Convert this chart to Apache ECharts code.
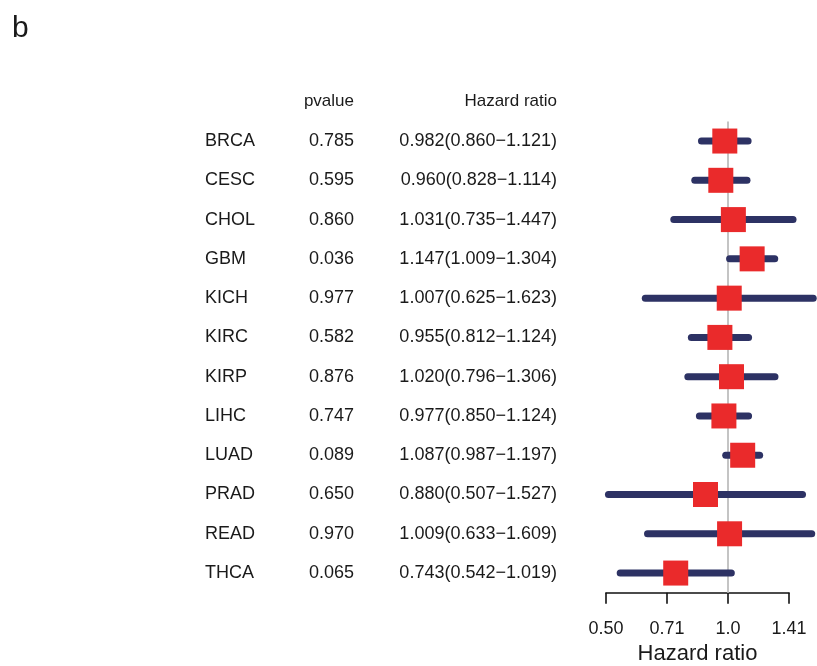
<!DOCTYPE html>
<html>
<head>
<meta charset="utf-8">
<script src="https://cdn.jsdelivr.net/npm/echarts@6/dist/echarts.min.js"></script>
<style>html,body{margin:0;padding:0;background:#fff}#c{width:817px;height:666px}</style>
</head>
<body>
<div id="c"></div>
<script>
const categories = ["BRCA","CESC","CHOL","GBM","KICH","KIRC","KIRP","LIHC","LUAD","PRAD","READ","THCA"];
const pvalues = ["0.785","0.595","0.860","0.036","0.977","0.582","0.876","0.747","0.089","0.650","0.970","0.065"];
const hr = [0.982,0.960,1.031,1.147,1.007,0.955,1.020,0.977,1.087,0.880,1.009,0.743];
const hrLow = [0.860,0.828,0.735,1.009,0.625,0.812,0.796,0.850,0.987,0.507,0.633,0.542];
const hrHigh = [1.121,1.114,1.447,1.304,1.623,1.124,1.306,1.124,1.197,1.527,1.609,1.019];
const tickLabels = ["0.50","0.71","1.0","1.41"];
const refValue = [1.0];

const FONT = '"Liberation Sans", Arial, Helvetica, sans-serif';
const TXT = '#1a1a1a';

const fmt = v => v.toFixed(3);
const ciData = categories.map((c,i)=>[Math.log2(hrLow[i]), Math.log2(hrHigh[i]), Math.log2(hr[i]), i]);
const tableData = categories.map((c,i)=>[0, i, c, pvalues[i], fmt(hr[i])+'('+fmt(hrLow[i])+'\u2212'+fmt(hrHigh[i])+')']);

const chart = echarts.init(document.getElementById('c'), null, {renderer:'canvas'});
chart.setOption({
  animation:false,
  backgroundColor:'#fff',
  textStyle:{fontFamily:FONT},
  graphic:[
    {type:'text', left:12, top:14, style:{text:'b', font:'30px '+FONT, fill:TXT}},
    {type:'text', x:354, y:101, style:{text:'pvalue', font:'17px '+FONT, fill:TXT, align:'right', verticalAlign:'middle'}},
    {type:'text', x:557, y:101, style:{text:'Hazard ratio', font:'17px '+FONT, fill:TXT, align:'right', verticalAlign:'middle'}}
  ],
  grid:{left:606, width:183, top:121.4, height:471.3, outerBoundsMode:'none', containLabel:false},
  xAxis:{
    type:'value', min:-1, max:0.5, interval:0.5,
    axisLine:{show:true, lineStyle:{color:'#111', width:1.6}},
    axisTick:{show:true, length:11, lineStyle:{color:'#111', width:1.6}},
    axisLabel:{margin:27, fontSize:18, color:TXT, fontFamily:FONT,
      formatter:(v)=>{const k=Math.round((v+1)/0.5); return tickLabels[k]||'';}},
    splitLine:{show:false},
    name:'Hazard ratio', nameLocation:'middle', nameGap:48,
    nameTextStyle:{fontSize:22, color:TXT, fontFamily:FONT}
  },
  yAxis:{type:'category', data:categories, inverse:true, show:false},
  series:[
    {
      type:'custom', z:1, clip:false, data:refValue.map(v=>[Math.log2(v)]),
      renderItem:(params, api)=>{
        const cs = params.coordSys;
        const x = api.coord([api.value(0), 0])[0];
        return {type:'line', shape:{x1:x, y1:cs.y, x2:x, y2:cs.y+cs.height},
          style:{stroke:'#c4c4c4', lineWidth:2}};
      }
    },
    {
      type:'custom', z:2, clip:false, data:ciData,
      renderItem:(params, api)=>{
        const y = api.value(3);
        const p1 = api.coord([api.value(0), y]);
        const p2 = api.coord([api.value(1), y]);
        const pc = api.coord([api.value(2), y]);
        const s = 25;
        return {type:'group', children:[
          {type:'line', shape:{x1:p1[0], y1:p1[1], x2:p2[0], y2:p2[1]},
            style:{stroke:'#2d3264', lineWidth:7, lineCap:'round'}},
          {type:'rect', shape:{x:pc[0]-s/2, y:pc[1]-s/2, width:s, height:s},
            style:{fill:'#ea2a2b'}}
        ]};
      }
    },
    {
      type:'custom', z:3, clip:false, data:tableData,
      renderItem:(params, api)=>{
        const i = params.dataIndex;
        const yy = api.coord([0, i])[1];
        const d = tableData[i];
        const st = (t, x, al)=>({type:'text', x:x, y:yy, style:{text:t, font:'18px '+FONT, fill:TXT, align:al, verticalAlign:'middle'}});
        return {type:'group', children:[st(d[2],205,'left'), st(d[3],354,'right'), st(d[4],557,'right')]};
      }
    }
  ]
});
</script>
</body>
</html>
